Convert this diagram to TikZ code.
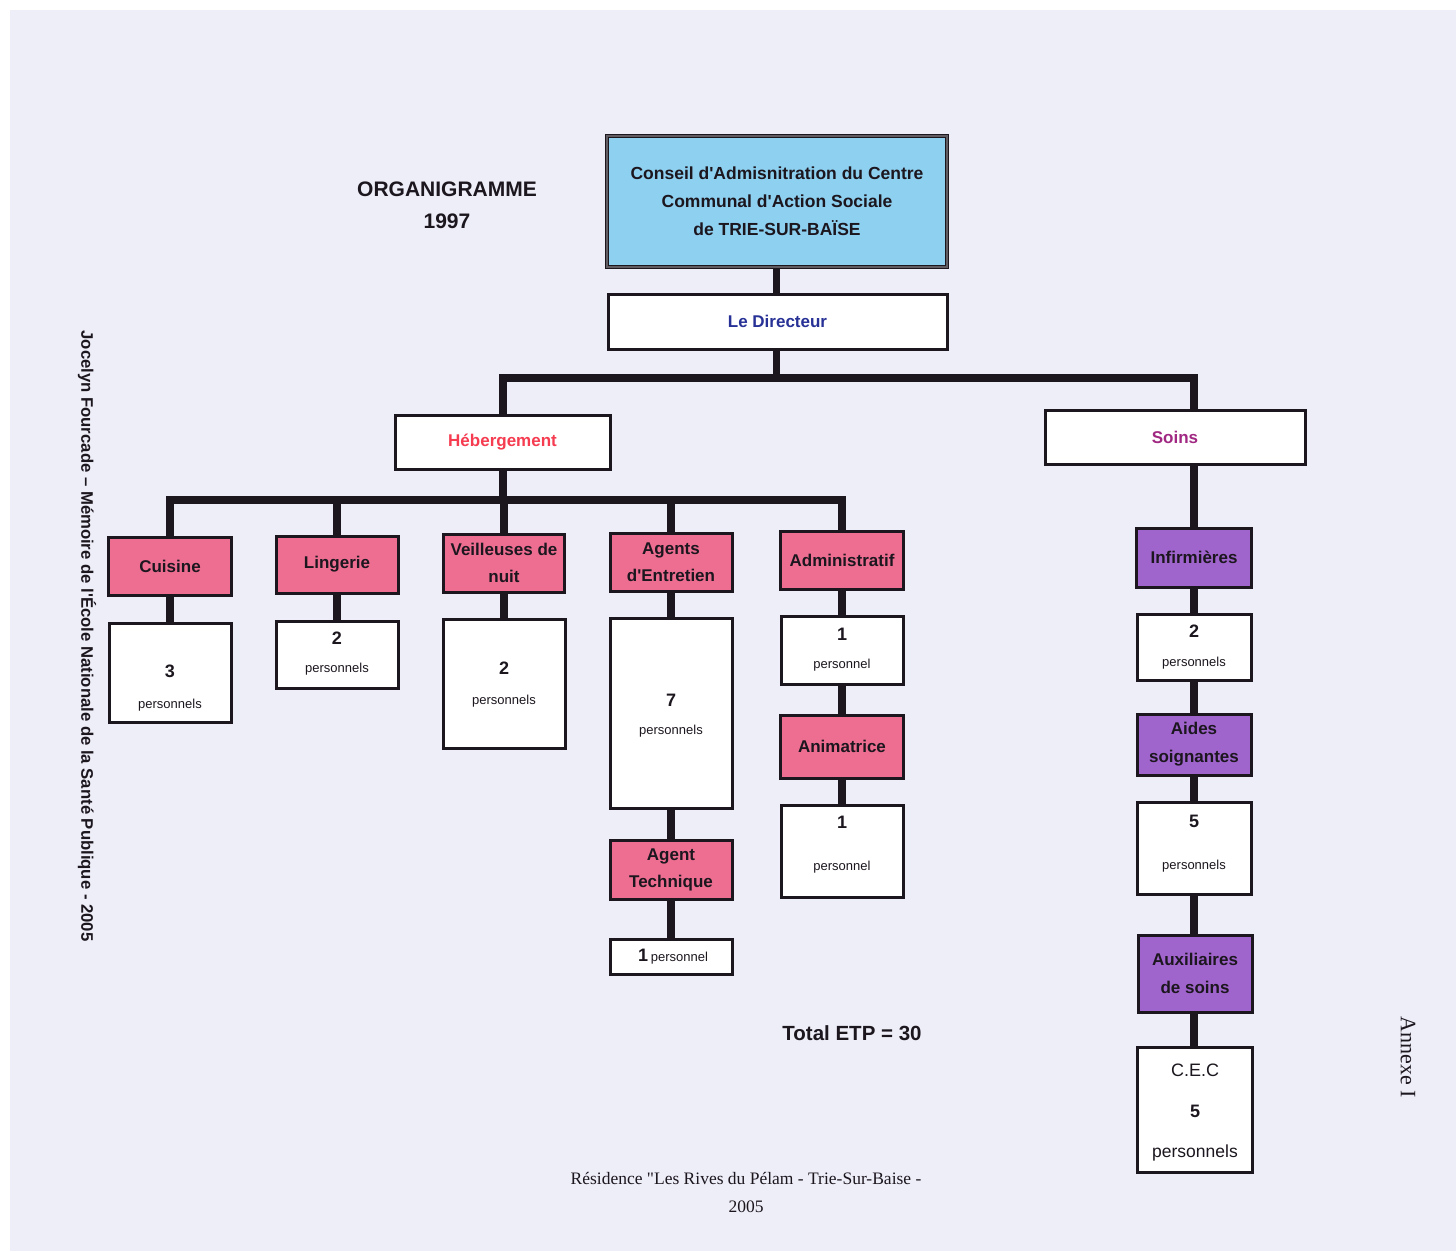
\documentclass[tikz,border=0pt]{standalone}
\usepackage{fontspec}
\setmainfont{Liberation Sans}[Ligatures=TeXOff]
\newfontfamily\timesf{Liberation Serif}[Ligatures=TeXOff]
\usetikzlibrary{calc}
\pgfdeclarelayer{bg}
\pgfdeclarelayer{edges}
\pgfsetlayers{bg,edges,main}
\definecolor{lav}{RGB}{238,238,248}
\definecolor{cablue}{RGB}{142,208,240}
\definecolor{pinkf}{RGB}{238,110,145}
\definecolor{purplef}{RGB}{160,100,205}
\definecolor{dirblue}{RGB}{40,50,150}
\definecolor{hebred}{RGB}{245,60,80}
\definecolor{soinsv}{RGB}{160,40,130}
\definecolor{ink}{RGB}{28,22,30}
\begin{document}
\begin{tikzpicture}[x=1pt,y=-1pt,
  box/.style={draw=ink, line width=3, fill=white, inner sep=0, align=center, text=ink},
  pinkbox/.style={box, fill=pinkf, font={\fontsize{17}{27}\selectfont\bfseries}},
  purplebox/.style={box, fill=purplef, font={\fontsize{17}{28}\selectfont\bfseries}},
  cntbox/.style={box},
  num/.style={inner sep=0, text=ink, font={\fontsize{18}{18}\selectfont\bfseries}},
  pers/.style={inner sep=0, text=ink, font={\fontsize{13}{13}\selectfont}},
  conn/.style={draw=ink, line width=8, line join=miter}]
\useasboundingbox (0,0) rectangle (1456,1251);
\begin{pgfonlayer}{bg}
\fill[white] (0,0) rectangle (1456,1251);
\fill[lav] (10,10) rectangle (1456,1251);
\end{pgfonlayer}

% titles
\node[align=center, inner sep=0, text=ink, font={\fontsize{21}{32}\selectfont\bfseries}] (title) at (447,205) {ORGANIGRAMME\\1997};
\node[inner sep=0, text=ink, font={\fontsize{20.5}{20.5}\selectfont\bfseries}] (total) at (852,1033) {Total ETP = 30};
\node[inner sep=0, text=ink, rotate=-90, font={\fontsize{16.7}{16.7}\selectfont\bfseries}] (author) at (87,636) {Jocelyn Fourcade – Mémoire de l'École Nationale de la Santé Publique - 2005};
\node[inner sep=0, text=ink, rotate=-90, font={\timesf\fontsize{22}{22}\selectfont}] (annexe) at (1408,1057) {Annexe I};
\node[inner sep=0, align=center, text=ink, font={\timesf\fontsize{17.5}{28}\selectfont}] (foot) at (746,1192) {Résidence "Les Rives du Pélam - Trie-Sur-Baise -\\2005};

% top
\node[box, fill=cablue, line width=1.6, double=ink!70, double distance=1.6, minimum width=340, minimum height=131, font={\fontsize{17.5}{28}\selectfont\bfseries}] (ca) at (777,201.5) {Conseil d'Admisnitration du Centre\\Communal d'Action Sociale\\de TRIE-SUR-BAÏSE};
\node[box, minimum width=339, minimum height=55, text=dirblue, font={\fontsize{17}{17}\selectfont\bfseries}] (dir) at (777.5,321.5) {Le Directeur};
\node[box, minimum width=215, minimum height=54, text=hebred, font={\fontsize{17}{17}\selectfont\bfseries}] (heb) at (502.5,442) {Hébergement};
\node[box, minimum width=260, minimum height=54, text=soinsv, font={\fontsize{17}{17}\selectfont\bfseries}] (soins) at (1175,437) {Soins};

% hebergement children
\node[pinkbox, minimum width=123, minimum height=58] (cuisine) at (170,566) {Cuisine};
\node[cntbox, minimum width=122, minimum height=99] (cuisinen) at (170,672.5) {};
\node[num] (cuisinen-a) at (170,671) {3};
\node[pers] (cuisinen-b) at (170,705) {personnels};

\node[pinkbox, minimum width=122, minimum height=57] (lingerie) at (337,564.5) {Lingerie};
\node[cntbox, minimum width=122, minimum height=67] (lingerien) at (337,654.5) {};
\node[num] (lingerien-a) at (337,638) {2};
\node[pers] (lingerien-b) at (337,669) {personnels};

\node[pinkbox, minimum width=121, minimum height=58] (veil) at (504,563) {Veilleuses de\\nuit};
\node[cntbox, minimum width=122, minimum height=129] (veiln) at (504,683.5) {};
\node[num] (veiln-a) at (504,668) {2};
\node[pers] (veiln-b) at (504,701) {personnels};

\node[pinkbox, minimum width=122, minimum height=58] (agents) at (671,562) {Agents\\d'Entretien};
\node[cntbox, minimum width=122, minimum height=190] (agentsn) at (671,713) {};
\node[num] (agentsn-a) at (671,700) {7};
\node[pers] (agentsn-b) at (671,731) {personnels};
\node[pinkbox, minimum width=122, minimum height=59] (tech) at (671,869.5) {Agent\\Technique};
\node[cntbox, minimum width=122, minimum height=35] (techn) at (671,956.5) {};
\node[inner sep=0, text=ink] (techn-t) at (673,957) {{\fontsize{18}{18}\selectfont\bfseries 1} {\fontsize{13}{13}\selectfont personnel}};

\node[pinkbox, minimum width=123, minimum height=58] (admin) at (842,560) {Administratif};
\node[cntbox, minimum width=122, minimum height=68] (adminn) at (842,650) {};
\node[num] (adminn-a) at (842,634) {1};
\node[pers] (adminn-b) at (842,665) {personnel};
\node[pinkbox, minimum width=123, minimum height=63] (anim) at (842,746.5) {Animatrice};
\node[cntbox, minimum width=122, minimum height=92] (animn) at (842,851) {};
\node[num] (animn-a) at (842,822) {1};
\node[pers] (animn-b) at (842,867) {personnel};

% soins children
\node[purplebox, minimum width=115, minimum height=59] (inf) at (1194,557.5) {Infirmières};
\node[cntbox, minimum width=114, minimum height=66] (infn) at (1194,647) {};
\node[num] (infn-a) at (1194,631) {2};
\node[pers] (infn-b) at (1194,663) {personnels};
\node[purplebox, minimum width=114, minimum height=61] (aides) at (1194,744.5) {Aides\\soignantes};
\node[cntbox, minimum width=114, minimum height=92] (aidesn) at (1194,848) {};
\node[num] (aidesn-a) at (1194,821) {5};
\node[pers] (aidesn-b) at (1194,866) {personnels};
\node[purplebox, minimum width=114, minimum height=77] (aux) at (1195,973.5) {Auxiliaires\\de soins};
\node[cntbox, minimum width=115, minimum height=125] (auxn) at (1195,1109.5) {};
\node[inner sep=0, text=ink, font={\fontsize{18}{18}\selectfont}] (auxn-a) at (1195,1070) {C.E.C};
\node[num] (auxn-b) at (1195,1111) {5};
\node[inner sep=0, text=ink, font={\fontsize{17.5}{17.5}\selectfont}] (auxn-c) at (1195,1153) {personnels};

\coordinate (b1) at (776,378);
\coordinate (b1r) at (1194,378);
\coordinate (b2r) at (842,500);

\begin{pgfonlayer}{edges}
\draw[conn, line width=7] (ca.center -| b1) -- (b1);
\draw[conn] (heb.center) |- (b1r) -- (soins.center -| b1r);
\draw[conn] (heb.center) -- (heb.center |- b2r);
\draw[conn] (cuisine.center) |- (b2r) -- (admin.center);
\draw[conn] (lingerie.center) -- (lingerie.center |- b2r);
\draw[conn] (veil.center) -- (veil.center |- b2r);
\draw[conn] (agents.center) -- (agents.center |- b2r);
\draw[conn] (cuisine) -- (cuisinen);
\draw[conn] (lingerie) -- (lingerien);
\draw[conn] (veil) -- (veiln);
\draw[conn] (agents) -- (agentsn) -- (tech) -- (techn);
\draw[conn] (admin) -- (adminn) -- (anim) -- (animn);
\draw[conn] (soins.center -| inf) -- (inf) -- (infn) -- (aides) -- (aidesn) -- (aux.center -| aidesn) -- (auxn.center -| aidesn);
\end{pgfonlayer}
\end{tikzpicture}
\end{document}
